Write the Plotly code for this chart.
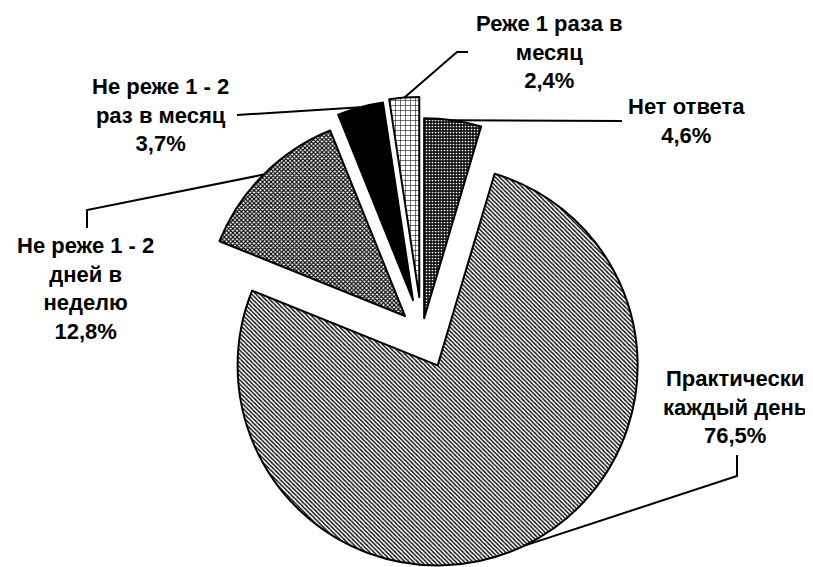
import math
import plotly.graph_objects as go

# ---- data ----
categories = [
    "Нет ответа",
    "Практически каждый день",
    "Не реже 1 - 2 дней в неделю",
    "Не реже 1 - 2 раз в месяц",
    "Реже 1 раза в месяц",
]
values = [4.6, 76.5, 12.8, 3.7, 2.4]
label_lines = [
    ["Нет ответа"],
    ["Практически", "каждый день"],
    ["Не реже 1 - 2", "дней в", "неделю"],
    ["Не реже 1 - 2", "раз в месяц"],
    ["Реже 1 раза в", "месяц"],
]

# ---- styling ----
pulls = [0.075, 0.18, 0.12, 0.17, 0.18]
pat_shapes = [".", "\\", "x", "", "+"]
pat_fg = ["#ffffff", "#000000", "#000000", "#000000", "#000000"]
pat_bg = ["#111111", "#ffffff", "#ffffff", "#000000", "#ffffff"]
pat_size = [3, 3, 3, 4, 5]
pat_sol = [0.25, 0.45, 0.6, 0.5, 0.2]
slice_colors = ["#111111", "#ffffff", "#ffffff", "#000000", "#ffffff"]

W, H = 813, 567
OFF = 8  # page body margin offset
dom_x = [0.2189, 0.7995]
dom_y = [0.0, 0.8536]

# label centres (target px in the page) and leader elbow points (page px)
label_pos = [(686, 121), (735, 407), (85, 288), (160, 115), (549, 52)]
leader_pts = [
    [(622, 121)],
    [(737, 476), (737, 455)],
    [(87, 210), (87, 228)],
    [(237, 115)],
    [(457, 52), (468, 52)],
]

fig = go.Figure(
    go.Pie(
        labels=categories,
        values=values,
        sort=False,
        direction="clockwise",
        rotation=0,
        pull=pulls,
        textinfo="none",
        hoverinfo="label+percent",
        domain=dict(x=dom_x, y=dom_y),
        marker=dict(
            colors=slice_colors,
            line=dict(color="#000000", width=2),
            pattern=dict(
                shape=pat_shapes,
                fgcolor=pat_fg,
                bgcolor=pat_bg,
                size=pat_size,
                solidity=pat_sol,
            ),
        ),
        showlegend=False,
    )
)

# geometry mirroring plotly's pie layout (figure px)
box_w = W * (dom_x[1] - dom_x[0])
box_h = H * (dom_y[1] - dom_y[0])
r = min(box_w, box_h) / (2 + 2 * max(pulls))
cx = W * (dom_x[0] + dom_x[1]) / 2
cy = H * (1 - dom_y[0]) - box_h / 2
total = sum(values)

def fig_to_paper(p):
    return p[0] / W, 1 - p[1] / H

def page_to_paper(p):
    return (p[0] - OFF) / W, 1 - (p[1] - OFF) / H

annotations = []
shapes = []
cum = 0.0
for i, v in enumerate(values):
    theta = 2 * math.pi * (cum + v / 2) / total
    cum += v
    pcx = cx + pulls[i] * r * math.sin(theta)
    pcy = cy - pulls[i] * r * math.cos(theta)
    arc = fig_to_paper((pcx + r * math.sin(theta), pcy - r * math.cos(theta)))
    pts = [arc] + [page_to_paper(p) for p in leader_pts[i]]
    path = ""
    for j, (px, py) in enumerate(pts):
        path += ("M" if j == 0 else " L") + f" {px:.5f} {py:.5f}"
    shapes.append(dict(type="path", path=path, xref="paper", yref="paper",
                       line=dict(color="#000000", width=2)))
    pct = f"{v:.1f}".replace(".", ",") + "%"
    text = "<br>".join(label_lines[i] + [pct])
    lx, ly = page_to_paper(label_pos[i])
    annotations.append(dict(
        x=lx, y=ly, xref="paper", yref="paper", text=text, showarrow=False,
        xanchor="center", yanchor="middle", align="center",
        font=dict(family="Arial, Liberation Sans, sans-serif", size=22,
                  color="#000000", weight="bold"),
    ))

fig.update_layout(
    width=W,
    height=H,
    margin=dict(l=0, r=0, t=0, b=0),
    paper_bgcolor="#ffffff",
    plot_bgcolor="#ffffff",
    annotations=annotations,
    shapes=shapes,
)

fig.write_html("out.html")
